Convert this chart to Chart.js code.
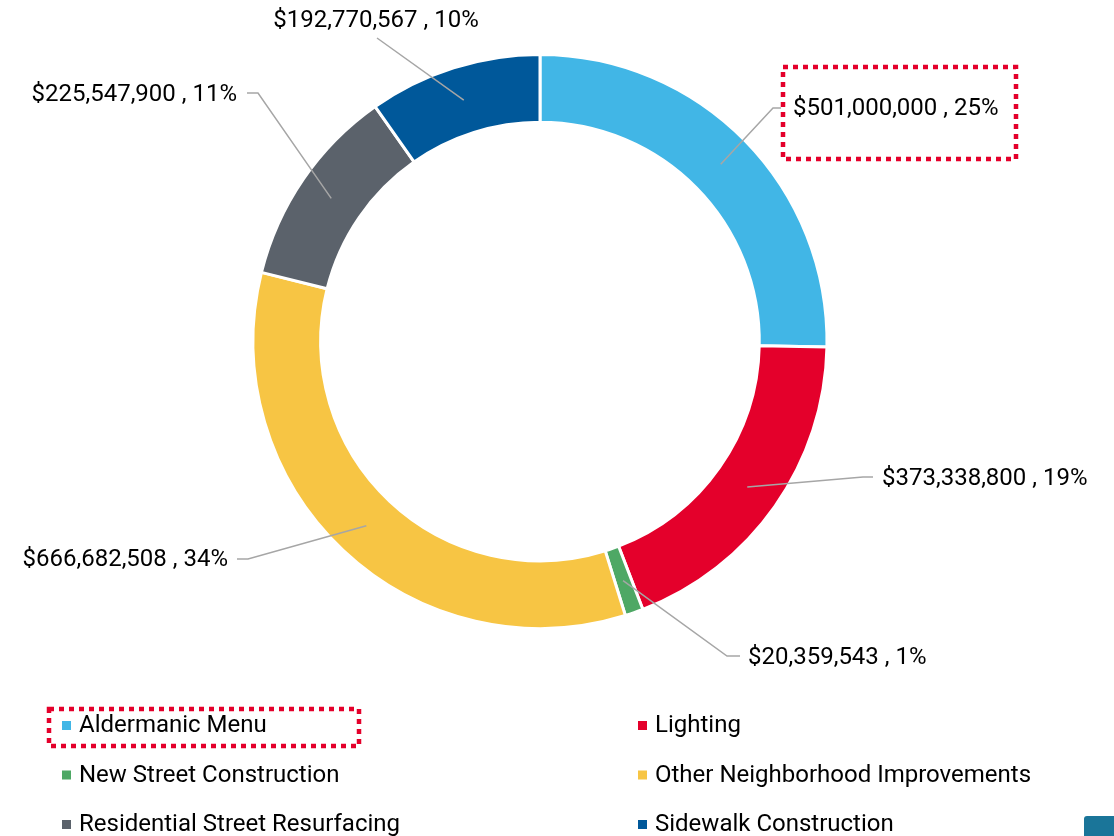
<!DOCTYPE html>
<html>
<head>
<meta charset="utf-8">
<script src="https://cdn.jsdelivr.net/npm/chart.js@4.4.1/dist/chart.umd.min.js"></script>
<style>
  html, body { margin: 0; padding: 0; background: #fff; }
  #wrap { position: relative; width: 1114px; height: 836px; overflow: hidden; }
  #corner { position: absolute; left: 1084px; top: 816px; width: 40px; height: 30px; background: #1a7599; border-radius: 3px; }
</style>
</head>
<body>
<div id="wrap">
  <canvas id="budgetChart" width="1114" height="836"></canvas>
  <div id="corner"></div>
</div>
<script>
// categories and amounts (USD)
const categories = ['Aldermanic Menu', 'Lighting', 'New Street Construction', 'Other Neighborhood Improvements', 'Residential Street Resurfacing', 'Sidewalk Construction'];
const amounts = [501000000, 373338800, 20359543, 666682508, 225547900, 192770567];
const colours = ['#41b6e6', '#e4002b', '#4ea865', '#f7c544', '#5b626b', '#00589a'];

// where each callout label sits: elbow point, end of the short tail, text anchor
const calloutSpots = [
  { elbow: [773, 108], tail: [781, 108], text: [793, 109], align: 'left' },
  { elbow: [863, 477], tail: [873, 477], text: [882, 479], align: 'left' },
  { elbow: [727, 656], tail: [740, 656], text: [748, 658], align: 'left' },
  { elbow: [248, 559], tail: [237, 559], text: [228, 560], align: 'right' },
  { elbow: [258, 93], tail: [247, 93], text: [237, 95], align: 'right' },
  { elbow: [377, 38], tail: [377, 38], text: [376, 21], align: 'center' }
];
const FONT = '24px Roboto, "Noto Sans", sans-serif';

function dottedBox(ctx, x, y, w, h) {
  ctx.save();
  ctx.strokeStyle = '#e4002b';
  ctx.lineWidth = 4.5;
  ctx.setLineDash([5, 5]);
  ctx.strokeRect(x, y, w, h);
  ctx.restore();
}

const calloutPlugin = {
  id: 'callouts',
  afterDatasetsDraw(chart) {
    const ctx = chart.ctx;
    const data = chart.data.datasets[0].data;
    const total = data.reduce((a, b) => a + b, 0);
    const arcs = chart.getDatasetMeta(0).data;
    ctx.save();
    arcs.forEach((arc, i) => {
      const p = arc.tooltipPosition();
      const s = calloutSpots[i];
      ctx.strokeStyle = '#a6a6a6';
      ctx.lineWidth = 1.5;
      ctx.beginPath();
      ctx.moveTo(p.x, p.y);
      ctx.lineTo(s.elbow[0], s.elbow[1]);
      ctx.lineTo(s.tail[0], s.tail[1]);
      ctx.stroke();
      const pct = Math.round(data[i] / total * 100);
      const txt = '$' + data[i].toLocaleString('en-US') + ' , ' + pct + '%';
      ctx.font = FONT;
      ctx.fillStyle = '#000';
      ctx.textAlign = s.align;
      ctx.textBaseline = 'middle';
      ctx.fillText(txt, s.text[0], s.text[1]);
    });
    ctx.restore();
    // highlight around the first callout
    dottedBox(ctx, 783, 67, 233, 92);
  },
  afterDraw(chart) {
    // two-column legend under the ring
    const ctx = chart.ctx;
    const labels = chart.data.labels;
    const bg = chart.data.datasets[0].backgroundColor;
    ctx.save();
    ctx.font = FONT;
    ctx.textAlign = 'left';
    ctx.textBaseline = 'middle';
    labels.forEach((lab, i) => {
      const col = i % 2;
      const row = Math.floor(i / 2);
      const x = col === 0 ? 62 : 638;
      const y = 725 + row * 49.5;
      ctx.fillStyle = bg[i];
      ctx.fillRect(x, y - 4, 9, 9);
      ctx.fillStyle = '#000';
      ctx.fillText(lab, x + 17, y + 1);
    });
    ctx.restore();
    dottedBox(ctx, 49, 709, 310, 37);
  }
};

new Chart(document.getElementById('budgetChart'), {
  type: 'doughnut',
  data: {
    labels: categories,
    datasets: [{
      data: amounts,
      backgroundColor: colours,
      borderColor: '#ffffff',
      borderWidth: 3
    }]
  },
  options: {
    responsive: false,
    animation: false,
    radius: 287,
    cutout: 217,
    layout: { padding: { top: 56, bottom: 209, left: 0, right: 34 } },
    plugins: {
      legend: { display: false },
      tooltip: { enabled: false }
    }
  },
  plugins: [calloutPlugin]
});
</script>
</body>
</html>
